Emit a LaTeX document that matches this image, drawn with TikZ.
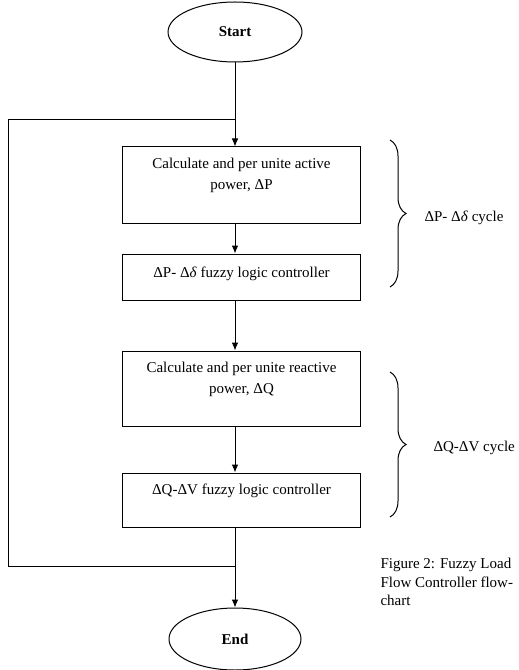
\documentclass[tikz,border=0pt]{standalone}
\usepackage{fontspec}
\setmainfont{Liberation Serif}
\usetikzlibrary{arrows.meta,positioning,shapes,decorations.pathreplacing}
\tikzset{
  flow box/.style={
    draw,
    inner sep=0pt,
    minimum width=179pt
  },
  terminal/.style={
    draw,
    ellipse,
    inner sep=0pt,
    minimum width=100.5pt,
    minimum height=45pt,
    font=\fontsize{11.25}{15.75}\selectfont\bfseries
  },
  cycle brace/.style={
    decorate,
    decoration={brace, amplitude=12pt}
  },
  side label/.style={
    anchor=base west,
    inner sep=0pt
  }
}
\newcommand{\boxtext}[3][4.75pt]{\parbox[c][#2][t]{172pt}{\centering\vspace*{#1}\strut#3}}

\begin{document}
\begin{tikzpicture}[%
        x=0.75pt,
        y=-0.75pt,
        on grid,
        line width=0.75pt,
        >={Latex[length=6pt,width=5pt]},
        font=\fontsize{11.25}{15.75}\selectfont]
      \useasboundingbox (0,0) rectangle (518,670);
      \node[terminal] (start)    at (235,32)                            {Start};
      \node[flow box] (calc_p)   [below right=114.75pt and 4.875pt of start] {\boxtext{57pt}{Calculate and per unite active\\power, ΔP}};
      \node[flow box] (fuzzy_p)  [below=69pt of calc_p]                 {\boxtext[6.25pt]{34.5pt}{ΔP- Δ\textit{δ} fuzzy logic controller}};
      \node[flow box] (calc_q)   [below=83.625pt of fuzzy_p]            {\boxtext{56.25pt}{Calculate and per unite reactive\\power, ΔQ}};
      \node[flow box] (fuzzy_q)  [below=83.625pt of calc_q]             {\boxtext{40.5pt}{ΔQ-ΔV fuzzy logic controller}};
      \node[terminal, minimum width=99pt, minimum height=46.5pt] (stop) [below left=104.25pt and 4.875pt of fuzzy_q] {End};
      % feedback loop
      \coordinate (split)       at (235,120);
      \coordinate (join)        at (235,566);
      \coordinate (loop top)    at (8,120);
      \coordinate (loop bottom) at (8,566);
      \draw[->] (start)                -- (start |- calc_p.north);
      \draw[->] (start |- calc_p.south)  -- (start |- fuzzy_p.north);
      \draw[->] (start |- fuzzy_p.south) -- (start |- calc_q.north);
      \draw[->] (start |- calc_q.south)  -- (start |- fuzzy_q.north);
      \draw[->] (start |- fuzzy_q.south) -- (stop);
      \draw (join) -- (loop bottom) -- (loop top) -- (split);
      % cycles
      \draw[cycle brace] (390,140) -- (390,287);
      \node[side label] (p_cycle) at (424,221) {ΔP- Δ\textit{δ} cycle};
      \draw[cycle brace] (390,372) -- (390,517);
      \node[side label] (q_cycle) at (433,451) {ΔQ-ΔV cycle};
      \node[anchor=north west, align=left, inner sep=0pt, font=\fontsize{11.25}{13.9}\selectfont] (caption) at (380,558) {Figure 2: Fuzzy Load\\Flow Controller flow-\\chart};
    \end{tikzpicture}
\end{document}
